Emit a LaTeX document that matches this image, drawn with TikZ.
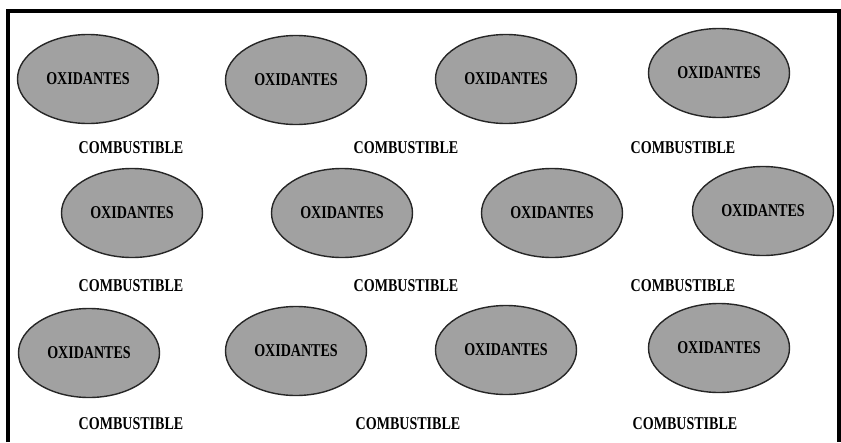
\documentclass[tikz,border=0pt]{standalone}
\usepackage{fontspec}
\setmainfont{Liberation Serif}
\usetikzlibrary{shapes.geometric}
\tikzset{
  oxi/.style={ellipse, draw=black!85, line width=1.4pt, fill=black!37,
    minimum width=141pt, minimum height=89pt, inner sep=0pt,
    font=\fontsize{18}{18}\selectfont\bfseries, text=black},
  comb/.style={inner sep=0pt, font=\fontsize{18}{18}\selectfont\bfseries, text=black},
  frame/.style={line width=3.5pt, black}
}
\newcommand{\oxtxt}{\scalebox{0.78}[1]{OXIDANTES}}
\newcommand{\cbtxt}{\scalebox{0.78}[1]{COMBUSTIBLE}}
\begin{document}
\begin{tikzpicture}[x=1pt,y=-1pt]
\useasboundingbox (0,0) rectangle (841,442);
\coordinate (f1) at (8,442);
\coordinate (f2) at (8,11);
\coordinate (f3) at (839,11);
\coordinate (f4) at (839,442);
\draw[frame] (f1) -- (f2) -- (f3) -- (f4);
% row 1
\node[oxi] (e1) at (88,79) {\oxtxt};
\node[oxi] (e2) at (296,80) {\oxtxt};
\node[oxi] (e3) at (506,79) {\oxtxt};
\node[oxi] (e4) at (719,73) {\oxtxt};
\node[comb] (c1) at (131,148) {\cbtxt};
\node[comb] (c2) at (406,148) {\cbtxt};
\node[comb] (c3) at (683,148) {\cbtxt};
% row 2
\node[oxi] (e5) at (132,213) {\oxtxt};
\node[oxi] (e6) at (342,213) {\oxtxt};
\node[oxi] (e7) at (552,213) {\oxtxt};
\node[oxi] (e8) at (763,211) {\oxtxt};
\node[comb] (c4) at (131,286) {\cbtxt};
\node[comb] (c5) at (406,286) {\cbtxt};
\node[comb] (c6) at (683,286) {\cbtxt};
% row 3
\node[oxi] (e9) at (89,353) {\oxtxt};
\node[oxi] (e10) at (296,351) {\oxtxt};
\node[oxi] (e11) at (506,350) {\oxtxt};
\node[oxi] (e12) at (719,348) {\oxtxt};
\node[comb] (c7) at (131,424) {\cbtxt};
\node[comb] (c8) at (408,424) {\cbtxt};
\node[comb] (c9) at (685,424) {\cbtxt};
\end{tikzpicture}
\end{document}
